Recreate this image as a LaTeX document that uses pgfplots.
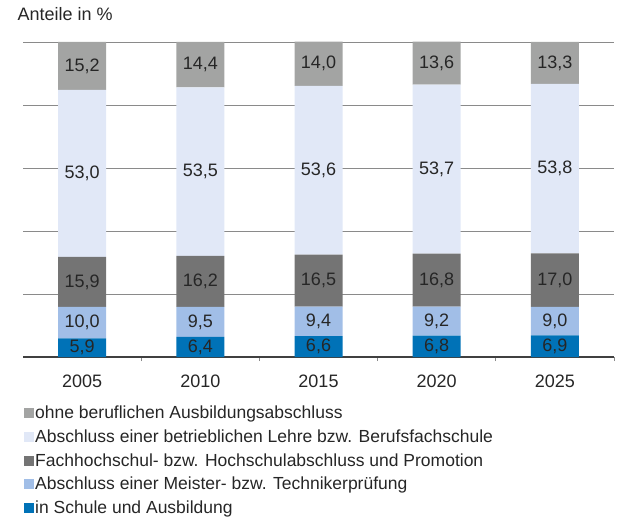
\documentclass[border=0pt]{standalone}
\usepackage{pgfplots}
\usepackage{pgfplotstable}
\pgfplotsset{compat=1.18}
\usepackage{fontspec}
\setmainfont{Liberation Sans}
\definecolor{cA}{HTML}{0072B7}
\definecolor{cB}{HTML}{A1BEE7}
\definecolor{cC}{HTML}{747474}
\definecolor{cD}{HTML}{E1E8F7}
\definecolor{cE}{HTML}{A3A4A3}
\definecolor{gridc}{HTML}{8A8A8A}
\pgfplotstableread{
x a b c d e
0 5.9 10.0 15.9 53.0 15.2
1 6.4 9.5 16.2 53.5 14.4
2 6.6 9.4 16.5 53.6 14.0
3 6.8 9.2 16.8 53.7 13.6
4 6.9 9.0 17.0 53.8 13.3
}\data
% label positions (middle of each segment) and values
\pgfplotstableread{
x m v
0 2.95 5.9
0 10.9 10.0
0 23.85 15.9
0 58.3 53.0
0 92.4 15.2
1 3.2 6.4
1 11.15 9.5
1 24.0 16.2
1 58.85 53.5
1 92.8 14.4
2 3.3 6.6
2 11.3 9.4
2 24.25 16.5
2 59.3 53.6
2 93.1 14.0
3 3.4 6.8
3 11.4 9.2
3 24.4 16.8
3 59.65 53.7
3 93.3 13.6
4 3.45 6.9
4 11.4 9.0
4 24.4 17.0
4 59.8 53.8
4 93.35 13.3
}\labels
\pgfplotsset{
  common/.style={at={(0,0)}, anchor=south west,
  scale only axis, width=591bp, height=315bp,
  xmin=-0.5, xmax=4.5, ymin=0, ymax=100, clip=false}
}
\begin{document}
\begin{tikzpicture}
\useasboundingbox (-23bp,-160bp) rectangle (595bp,357bp);
\begin{axis}[
  common,
  ybar stacked, bar width=48bp,
  axis x line*=bottom, axis y line*=left,
  y axis line style={draw=none},
  x axis line style={draw=black!75, line width=1.2bp},
  ytick={20,40,60,80,100}, yticklabels={}, ytick style={draw=none},
  ymajorgrids, major grid style={draw=gridc, line width=0.8bp},
  xtick={0.5,1.5,2.5,3.5,4.5}, xticklabels={},
  tick align=outside, major tick length=4bp,
  xtick style={draw=gridc, line width=0.8bp},
  extra x ticks={0,1,2,3,4},
  extra x tick labels={2005,2010,2015,2020,2025},
  extra x tick style={major tick length=0pt, tick label style={yshift=-14bp}},
  xticklabel style={font=\fontsize{18bp}{20bp}\selectfont, text=black!85},
  legend image code/.code={\fill[#1] (0bp,-5bp) rectangle (10bp,5bp);},
  reverse legend,
  legend cell align=left,
  legend style={draw=none, fill=none, at={(0,0)}, anchor=north west, xshift=1bp, yshift=-48bp, inner sep=0pt,
    font=\fontsize{17.5bp}{20bp}\selectfont, row sep=7.5bp,
    nodes={inner sep=1bp, text=black!85}},
]
\addplot[fill=cA, draw=none] table[x=x,y=a]{\data};
\addplot[fill=cB, draw=none] table[x=x,y=b]{\data};
\addplot[fill=cC, draw=none] table[x=x,y=c]{\data};
\addplot[fill=cD, draw=none] table[x=x,y=d]{\data};
\addplot[fill=cE, draw=none] table[x=x,y=e]{\data};
\legend{in Schule und Ausbildung, Abschluss einer Meister- bzw. Technikerprüfung, Fachhochschul- bzw. Hochschulabschluss und Promotion, Abschluss einer betrieblichen Lehre bzw. Berufsfachschule, ohne beruflichen Ausbildungsabschluss}
\end{axis}
\begin{axis}[common, hide axis]
\addplot[draw=none, mark=none, point meta=explicit,
  nodes near coords={\pgfmathprintnumber[fixed,fixed zerofill,precision=1,use comma,assume math mode=true]{\pgfplotspointmeta}},
  every node near coord/.append style={anchor=center, inner sep=0pt, font=\fontsize{18bp}{20bp}\selectfont, text=black!85}]
  table[x=x, y=m, meta=v]{\labels};
\end{axis}
\node[anchor=base west, font=\fontsize{18bp}{20bp}\selectfont, text=black!85] at (-9bp,336bp) {Anteile in \%};
\end{tikzpicture}
\end{document}
